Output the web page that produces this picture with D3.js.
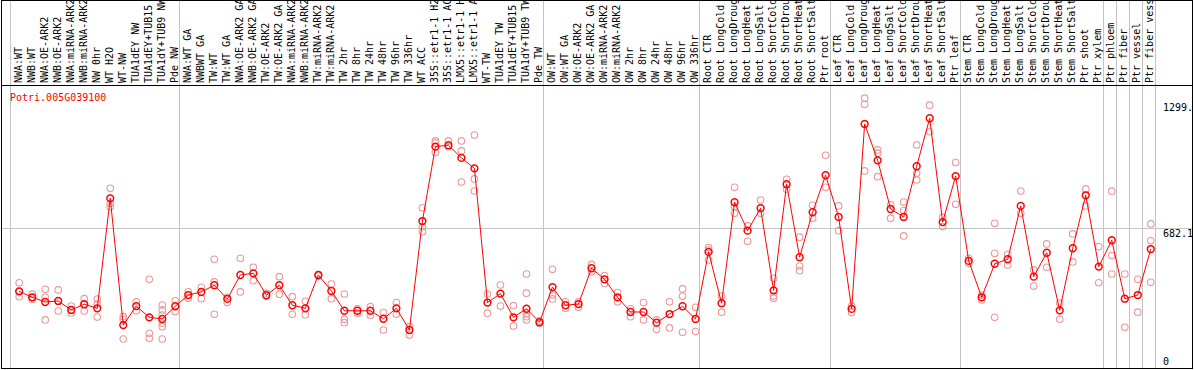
<!DOCTYPE html>
<html>
<head>
<meta charset="utf-8">
<script src="https://cdn.jsdelivr.net/npm/d3@7"></script>
<style>
  html, body { margin: 0; padding: 0; background: #fff; }
  svg { display: block; }
  text { font-family: "DejaVu Sans Mono", "Liberation Mono", monospace; font-size: 10px; }
</style>
</head>
<body>
<script>
const geneId = "Potri.005G039100";

const categories = [
  "NWA:WT","NWB:WT","NWA:OE-ARK2","NWB:OE-ARK2","NWA:miRNA-ARK2","NWB:miRNA-ARK2","NW 0hr","WT H2O","WT-NW",
  "TUA1dEY NW","TUA1dEY+TUB15","TUA1dY+TUB9 NW","Pde NW",
  "NWA:WT GA","NWBWT GA","TW:WT","TW:WT GA","NWA:OE-ARK2 GA","NWB:OE-ARK2 GA","TW:OE-ARK2","TW:OE-ARK2 GA",
  "NWA:miRNA-ARK2","NWB:miRNA-ARK2","TW:miRNA-ARK2","TW:miRNA-ARK2","TW 2hr","TW 8hr","TW 24hr","TW 48hr","TW 96hr","TW 336hr",
  "WT ACC","35S::etr1-1 H2","35S::etr1-1 AC","LMX5::etr1-1 H","LMX5::etr1-1 A","WT-TW","TUA1dEY TW","TUA1dEY+TUB15","TUA1dY+TUB9 TW","Pde TW",
  "OW:WT","OW:WT GA","OW:OE-ARK2","OW:OE-ARK2 GA","OW:miRNA-ARK2","OW:miRNA-ARK2","OW 2hr","OW 8hr","OW 24hr","OW 48hr","OW 96hr","OW 336hr",
  "Root CTR","Root LongCold","Root LongDroug","Root LongHeat","Root LongSalt","Root ShortCold","Root ShortDrou","Root ShortHeat","Root ShortSalt","Ptr root",
  "Leaf CTR","Leaf LongCold","Leaf LongDroug","Leaf LongHeat","Leaf LongSalt","Leaf ShortCold","Leaf ShortDrou","Leaf ShortHeat","Leaf ShortSalt","Ptr leaf",
  "Stem CTR","Stem LongCold","Stem LongDroug","Stem LongHeat","Stem LongSalt","Stem ShortCold","Stem ShortDrou","Stem ShortHeat","Stem ShortSalt","Ptr shoot",
  "Ptr xylem","Ptr phloem","Ptr fiber","Ptr vessel","Ptr fiber vess"
];

const means = [
  375,346,323,328,284,312,292,830,210,303,248,240,302,
  357,372,405,338,455,463,356,405,307,292,455,377,280,280,280,241,292,186,719,1083,1090,1028,977,320,364,248,290,224,
  396,307,313,488,434,346,274,274,222,264,302,240,
  568,317,811,672,782,380,899,542,762,943,
  739,289,1194,1016,778,739,987,1222,714,939,
  524,346,510,532,793,447,564,282,586,845,
  496,625,339,357,582
];

const replicates = [
  [417,375,349],[361,346,336],[385,346,235],[382,328,279],[303,284,269],[339,312,279],[337,313,249],[879,806,789],[251,238,142],
  [324,280],[434,170,145],[308,284,259,219,202,142],[329,276],
  [373,341],[395,339],[532,421,263],[346,320],[537,372],[493,427],[366,352],[447,361],[349,263],[326,261],[457,450],[411,339],
  [362,238,222],[290,268],[300,258],[271,186],[320,264],[202,161],[784,691,667],[1111,1101,1054],[1111,1083],[1111,1062,910],[1140,925,866],
  [362,268],[406,303],[305,206],[460,366,268,251,235],[231,219],
  [483,357,338],[324,292],[324,297],[507,471],[452,414],[369,324],[290,251],[320,235],[235,189],[324,196],[387,352,175],[297,178],
  [589,577,529],[352,273],[884,789,757],[695,620],[822,757],[439,352,341],[923,875],[640,499,476],[796,733],[1041,884],
  [793,672],[303,271],[1320,1290,964],[1067,1051,936],[798,733],[812,770,646],[1091,953,920],[1286,1156],[738,692],[1005,801],
  [537,512],[357,333],[708,561,248],[556,504],[866,757],[480,401],[607,493],[317,238],[656,519],[876,793],
  [594,417],[865,550,460],[460,199],[434,273],[705,622,419]
];

const groupEnds = [12,40,52,62,72,83,84,85,86,87];
const yTicks = [0, 682.1, 1299];
const yTickLabels = ["0", "682.1", "1299."];

const W = 1194, H = 370;
const plotTop = 85.5, plotBottom = 368;
const left = 1.5, right = 1192.5;

const svg = d3.select("body").append("svg").attr("width", W).attr("height", H);

const x = d3.scaleBand().domain(d3.range(categories.length)).range([10.6, 1155.2]).padding(0);
const px = i => x(i) + 8.6;
const y = d3.scaleLinear().domain([0, 1299]).range([368, 102.5]);

const crisp = v => Math.floor(v) + 0.5;

// grid lines
svg.append("g").selectAll("line.v")
  .data([-1].concat(groupEnds))
  .join("line")
  .attr("x1", d => crisp(d < 0 ? x(0) : x(d) + x.bandwidth()))
  .attr("x2", d => crisp(d < 0 ? x(0) : x(d) + x.bandwidth()))
  .attr("y1", 0).attr("y2", plotBottom)
  .attr("stroke", "#c4c4c4").attr("stroke-width", 1);

svg.append("line")
  .attr("x1", left).attr("x2", right)
  .attr("y1", crisp(y(682.1))).attr("y2", crisp(y(682.1)))
  .attr("stroke", "#c4c4c4").attr("stroke-width", 1);

// frame
svg.append("rect")
  .attr("x", left).attr("y", 0.5)
  .attr("width", right - left).attr("height", 368.5 - 0.5)
  .attr("fill", "none").attr("stroke", "#000").attr("stroke-width", 1);
svg.append("line")
  .attr("x1", left).attr("x2", right).attr("y1", plotTop).attr("y2", plotTop)
  .attr("stroke", "#000").attr("stroke-width", 1);

// category labels
svg.append("g").selectAll("text")
  .data(categories)
  .join("text")
  .attr("transform", (d, i) => `translate(${px(i) + 2.3},83) rotate(-90)`)
  .attr("fill", "#000")
  .text(d => d);

// y tick labels
svg.append("g").selectAll("text")
  .data(yTicks)
  .join("text")
  .attr("x", 1163)
  .attr("y", d => d === 0 ? y(d) - 3 : y(d) + 8)
  .attr("fill", "#000")
  .text((d, i) => yTickLabels[i]);

// gene id
svg.append("text").attr("x", 10).attr("y", 101).attr("fill", "#ff0000").text(geneId);

// replicates
const repData = [];
replicates.forEach((arr, i) => arr.forEach(v => repData.push({ i, v })));
svg.append("g").selectAll("circle")
  .data(repData)
  .join("circle")
  .attr("cx", d => px(d.i))
  .attr("cy", d => y(d.v))
  .attr("r", 3.3)
  .attr("fill", "none")
  .attr("stroke", "#ea9a9a")
  .attr("stroke-width", 1.1);

// mean line
svg.append("path")
  .datum(means)
  .attr("d", d3.line().x((d, i) => px(i)).y(d => y(d)))
  .attr("fill", "none")
  .attr("stroke", "#ff0000")
  .attr("stroke-width", 1);

// mean circles
svg.append("g").selectAll("circle")
  .data(means)
  .join("circle")
  .attr("cx", (d, i) => px(i))
  .attr("cy", d => y(d))
  .attr("r", 3.4)
  .attr("fill", "none")
  .attr("stroke", "#ff0000")
  .attr("stroke-width", 1.5);
</script>
</body>
</html>
